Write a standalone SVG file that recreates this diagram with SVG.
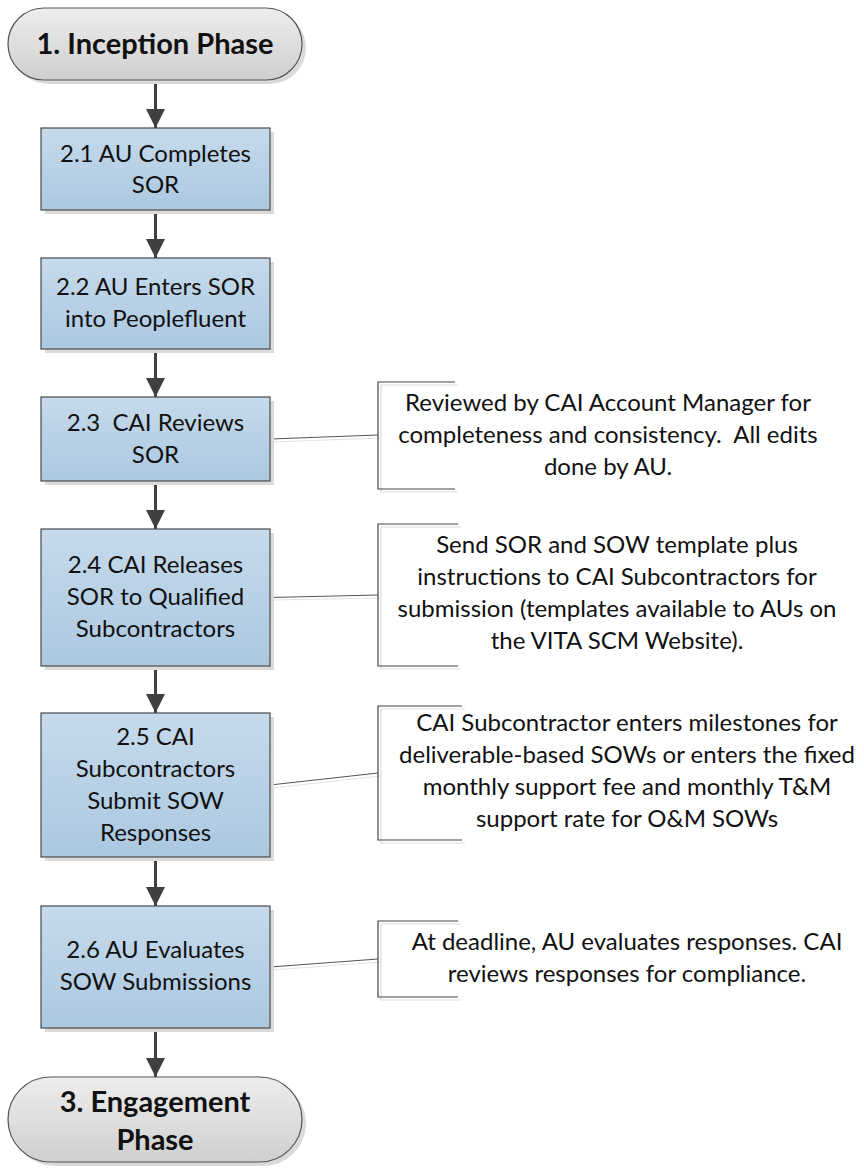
<svg xmlns="http://www.w3.org/2000/svg" width="864" height="1168" viewBox="0 0 864 1168">
  <defs>
    <linearGradient id="gBox" x1="0" y1="0" x2="0" y2="1">
      <stop offset="0" stop-color="#C6DAEB"/>
      <stop offset="1" stop-color="#ABC8E1"/>
    </linearGradient>
    <linearGradient id="gTerm" x1="0" y1="0" x2="0" y2="1">
      <stop offset="0" stop-color="#EDEDED"/>
      <stop offset="1" stop-color="#CFCFCF"/>
    </linearGradient>
    <marker id="arrow" markerWidth="19" markerHeight="19" refX="19" refY="9.5" orient="auto" markerUnits="userSpaceOnUse">
      <path d="M0,0 L19,9.5 L0,19 Z" fill="#404040"/>
    </marker>
  </defs>
  <style>
    .shadow { fill: #DADADA; }
    .box { fill: url(#gBox); stroke: #4A4A4A; stroke-width: 1.2; }
    .term { fill: url(#gTerm); stroke: #555555; stroke-width: 1.2; }
    .t { font-family: Lato, "Liberation Sans", sans-serif; font-size: 24px; fill: #111111; text-anchor: middle; }
    .tb { font-family: Lato, "Liberation Sans", sans-serif; font-size: 29px; font-weight: bold; fill: #111111; text-anchor: middle; }
    .flow { stroke: #404040; stroke-width: 3; fill: none; }
    .link { stroke: #555555; stroke-width: 1.2; fill: none; }
    .linkShadow { stroke: #E2E2E2; stroke-width: 1.2; fill: none; }
    .brk { stroke: #444444; stroke-width: 1.2; fill: none; }
    .brkShadow { stroke: #DDDDDD; stroke-width: 1.2; fill: none; }
  </style>

  <!-- flow connectors and annotation leaders -->
  <g id="connectors">
    <line class="flow" x1="155.5" y1="80" x2="155.5" y2="128" marker-end="url(#arrow)"/>
    <line class="flow" x1="155.5" y1="210" x2="155.5" y2="258" marker-end="url(#arrow)"/>
    <line class="flow" x1="155.5" y1="349" x2="155.5" y2="397" marker-end="url(#arrow)"/>
    <line class="flow" x1="155.5" y1="481" x2="155.5" y2="529" marker-end="url(#arrow)"/>
    <line class="flow" x1="155.5" y1="666" x2="155.5" y2="713" marker-end="url(#arrow)"/>
    <line class="flow" x1="155.5" y1="857" x2="155.5" y2="906" marker-end="url(#arrow)"/>
    <line class="flow" x1="155.5" y1="1028" x2="155.5" y2="1077" marker-end="url(#arrow)"/>

    <line class="linkShadow" x1="272" y1="442" x2="380" y2="438"/>
    <line class="link" x1="270" y1="439" x2="378" y2="435"/>
    <line class="linkShadow" x1="272" y1="600" x2="380" y2="598"/>
    <line class="link" x1="270" y1="597.5" x2="378" y2="595"/>
    <line class="linkShadow" x1="272" y1="788" x2="380" y2="776"/>
    <line class="link" x1="270" y1="785" x2="378" y2="773"/>
    <line class="linkShadow" x1="272" y1="970" x2="380" y2="962"/>
    <line class="link" x1="270" y1="967" x2="378" y2="959"/>
  </g>

  <!-- start terminator -->
  <g id="start">
    <rect class="shadow" x="12" y="12" width="294" height="72" rx="36"/>
    <rect class="term" x="8" y="8" width="294" height="72" rx="36"/>
    <text class="tb" x="155" y="54">1. Inception Phase</text>
  </g>

  <g id="step21">
    <rect class="shadow" x="45" y="132" width="229" height="82"/>
    <rect class="box" x="41" y="128" width="229" height="82"/>
    <text class="t" x="155.5" y="162">2.1 AU Completes</text>
    <text class="t" x="155.5" y="193">SOR</text>
  </g>

  <g id="step22">
    <rect class="shadow" x="45" y="262" width="229" height="91"/>
    <rect class="box" x="41" y="258" width="229" height="91"/>
    <text class="t" x="155.5" y="295">2.2 AU Enters SOR</text>
    <text class="t" x="155.5" y="327">into Peoplefluent</text>
  </g>

  <g id="step23">
    <rect class="shadow" x="45" y="401" width="229" height="84"/>
    <rect class="box" x="41" y="397" width="229" height="84"/>
    <text class="t" x="155.5" y="431" xml:space="preserve">2.3  CAI Reviews</text>
    <text class="t" x="155.5" y="463">SOR</text>
  </g>

  <g id="step24">
    <rect class="shadow" x="45" y="533" width="229" height="137"/>
    <rect class="box" x="41" y="529" width="229" height="137"/>
    <text class="t" x="155.5" y="573">2.4 CAI Releases</text>
    <text class="t" x="155.5" y="605">SOR to Qualified</text>
    <text class="t" x="155.5" y="637">Subcontractors</text>
  </g>

  <g id="step25">
    <rect class="shadow" x="45" y="717" width="229" height="144"/>
    <rect class="box" x="41" y="713" width="229" height="144"/>
    <text class="t" x="155.5" y="745">2.5 CAI</text>
    <text class="t" x="155.5" y="777">Subcontractors</text>
    <text class="t" x="155.5" y="809">Submit SOW</text>
    <text class="t" x="155.5" y="841">Responses</text>
  </g>

  <g id="step26">
    <rect class="shadow" x="45" y="910" width="229" height="122"/>
    <rect class="box" x="41" y="906" width="229" height="122"/>
    <text class="t" x="155.5" y="958">2.6 AU Evaluates</text>
    <text class="t" x="155.5" y="990">SOW Submissions</text>
  </g>

  <!-- end terminator -->
  <g id="end">
    <rect class="shadow" x="12" y="1081" width="294" height="85" rx="42.5"/>
    <rect class="term" x="8" y="1077" width="294" height="85" rx="42.5"/>
    <text class="tb" x="155" y="1112">3. Engagement</text>
    <text class="tb" x="155" y="1150">Phase</text>
  </g>

  <!-- annotations -->
  <g id="note23">
    <path class="brkShadow" d="M458,385 H381 V492 H458"/>
    <path class="brk" d="M455,382 H378 V489 H455"/>
    <text class="t" x="608" y="411">Reviewed by CAI Account Manager for</text>
    <text class="t" x="608" y="443" xml:space="preserve">completeness and consistency.  All edits</text>
    <text class="t" x="608" y="475">done by AU.</text>
  </g>

  <g id="note24">
    <path class="brkShadow" d="M461,527 H381 V669 H461"/>
    <path class="brk" d="M458,524 H378 V666 H458"/>
    <text class="t" x="617" y="553">Send SOR and SOW template plus</text>
    <text class="t" x="617" y="585">instructions to CAI Subcontractors for</text>
    <text class="t" x="617" y="617">submission (templates available to AUs on</text>
    <text class="t" x="617" y="649">the VITA SCM Website).</text>
  </g>

  <g id="note25">
    <path class="brkShadow" d="M465,709 H381 V843 H465"/>
    <path class="brk" d="M462,706 H378 V840 H462"/>
    <text class="t" x="627" y="731">CAI Subcontractor enters milestones for</text>
    <text class="t" x="627" y="763">deliverable-based SOWs or enters the fixed</text>
    <text class="t" x="627" y="795">monthly support fee and monthly T&amp;M</text>
    <text class="t" x="627" y="827">support rate for O&amp;M SOWs</text>
  </g>

  <g id="note26">
    <path class="brkShadow" d="M461,924 H381 V1000 H461"/>
    <path class="brk" d="M458,921 H378 V997 H458"/>
    <text class="t" x="627" y="950">At deadline, AU evaluates responses. CAI</text>
    <text class="t" x="627" y="982">reviews responses for compliance.</text>
  </g>
</svg>
